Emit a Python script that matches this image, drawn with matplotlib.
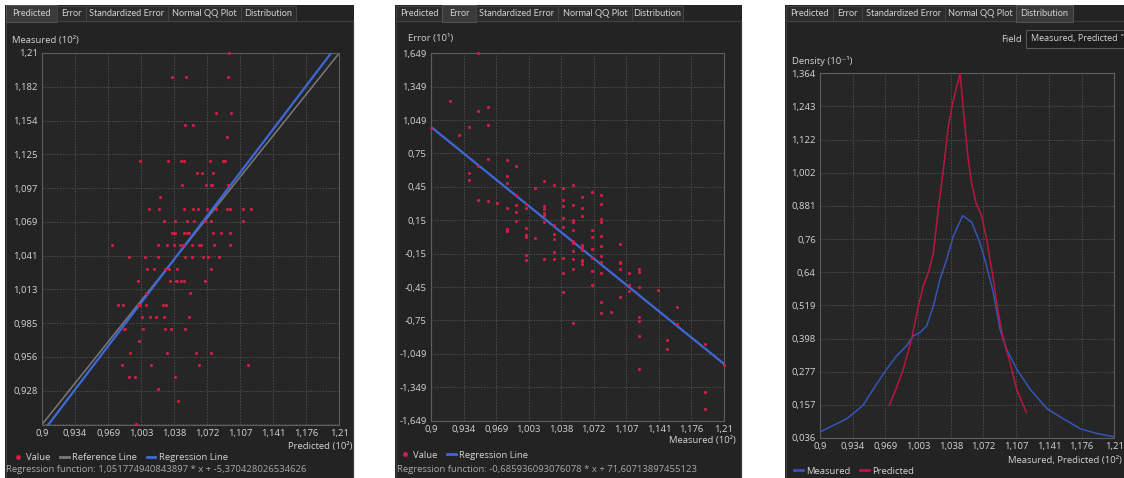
import matplotlib
matplotlib.use("Agg")
import matplotlib.pyplot as plt
from matplotlib.patches import Rectangle
from matplotlib.lines import Line2D
import numpy as np

plt.rcParams['font.family'] = ['Open Sans', 'DejaVu Sans']

# ---------------- data (real units) ----------------
measured = [121,
            119, 119, 119,
            116, 116,
            115, 115,
            114,
            112, 112, 112, 112, 112, 112, 112,
            111, 111, 111,
            110, 110, 110, 110, 110,
            109,
            108, 108, 108, 108, 108, 108, 108, 108, 108, 108, 108,
            107, 107, 107, 107, 107, 107, 107,
            106, 106, 106, 106, 106, 106, 106, 106, 106,
            105, 105, 105, 105, 105, 105, 105, 105, 105, 105, 105,
            104, 104, 104, 104, 104, 104, 104, 104,
            103, 103, 103, 103, 103, 103,
            102, 102, 102, 102, 102, 102, 102,
            101, 101,
            100, 100, 100, 100, 100, 100, 100,
            99, 99, 99, 99, 99,
            98, 98, 98, 98, 98, 98,
            97,
            96, 96, 96, 96,
            95, 95, 95, 95,
            94, 94, 94,
            93,
            92,
            90]
predicted = [109.49,
             103.54, 105.06, 109.41,
             108.19, 109.73,
             104.90, 105.79,
             109.24,
             100.18, 103.14, 104.49, 104.80, 107.48, 108.87, 109.11,
             106.19, 106.68, 107.79,
             104.63, 107.10, 107.62, 107.76, 109.39,
             102.27,
             101.19, 102.20, 104.80, 105.74, 106.26, 107.20, 108.10, 109.32, 109.60, 110.99, 111.75,
             102.72, 103.90, 105.08, 105.88, 106.96, 107.62, 110.99,
             103.59, 103.80, 103.90, 104.84, 105.08, 105.32, 107.86, 108.63, 109.63,
             97.30, 102.13, 103.03, 103.76, 104.42, 104.66, 105.64, 106.33, 106.54, 107.90, 109.63,
             99.04, 100.74, 102.13, 104.87, 105.67, 106.78, 107.34, 108.42,
             100.98, 101.68, 102.86, 103.27, 104.07, 107.62,
             100.04, 103.34, 103.93, 104.11, 104.49, 104.80, 107.03,
             100.88, 105.43,
             97.96, 98.41, 100.04, 100.18, 100.84, 102.58, 102.96,
             100.39, 101.22, 101.85, 102.72, 105.36,
             98.55, 98.69, 100.56, 102.82, 103.45, 104.87,
             100.08,
             99.21, 103.00, 106.05, 107.62,
             98.31, 101.40, 106.33, 111.51,
             99.10, 99.70, 103.90,
             102.13,
             104.21,
             99.78]

reg1_slope, reg1_intercept = 1.051774940843897, -5.370428026534626
reg2_slope, reg2_intercept = -0.685936093076078, 71.60713897455123

# density curves (x in real units, density in 10^-1)
meas_kde_x = [90.0, 92.82, 94.53, 95.62, 97.02, 98.07, 99.13, 99.83, 100.53, 101.23, 101.94,
              102.64, 103.34, 104.04, 105.03, 105.97, 106.85, 107.55, 108.26, 108.96, 109.66,
              110.71, 112.12, 113.90, 115.62, 117.41, 119.18, 120.9]
meas_kde_y = [0.058, 0.106, 0.155, 0.214, 0.287, 0.335, 0.372, 0.408, 0.420, 0.444, 0.517,
              0.614, 0.686, 0.771, 0.846, 0.822, 0.747, 0.662, 0.565, 0.432, 0.359,
              0.287, 0.214, 0.143, 0.106, 0.070, 0.052, 0.041]
pred_kde_x = [97.31, 98.00, 98.78, 99.65, 100.36, 100.88, 101.41, 101.94, 102.46, 102.99, 103.52,
              103.97, 104.75, 105.27, 105.62, 105.97, 106.43, 107.03, 107.55, 108.26, 108.78,
              109.31, 110.01, 110.71, 111.72]
pred_kde_y = [0.157, 0.214, 0.287, 0.396, 0.517, 0.589, 0.638, 0.710, 0.868, 1.013, 1.170,
              1.255, 1.364, 1.170, 1.049, 0.965, 0.892, 0.844, 0.759, 0.614, 0.493,
              0.396, 0.311, 0.214, 0.130]

x_tick_labels = ["0,9", "0,934", "0,969", "1,003", "1,038", "1,072", "1,107", "1,141", "1,176", "1,21"]
y1_tick_labels = ["", "0,928", "0,956", "0,985", "1,013", "1,041", "1,069", "1,097", "1,125", "1,154", "1,182", "1,21"]
y2_tick_labels = ["-1,649", "-1,349", "-1,049", "-0,75", "-0,45", "-0,15", "0,15", "0,45", "0,75", "1,049", "1,349", "1,649"]
y3_tick_labels = ["0,036", "0,157", "0,277", "0,398", "0,519", "0,64", "0,76", "0,881", "1,002", "1,122", "1,243", "1,364"]
tab_names = ["Predicted", "Error", "Standardized Error", "Normal QQ Plot", "Distribution"]

# ---------------- styling ----------------
W, H = 1124, 478
fig = plt.figure(figsize=(W / 100, H / 100), dpi=100)
fig.patch.set_facecolor('white')

PANEL = '#232323'
PLOT = '#262626'
TXT = '#d4d4d4'
RED = '#d81b45'
BLUE = '#3f68d8'
GRAY = '#7a7a7a'
FS = 6.8
TABFONT = ['Lato', 'DejaVu Sans']


def fx(px):
    return px / W


def fy(py):
    return 1 - py / H


def rect(x0, y0, x1, y1, fc, ec='none', lw=0.8, z=0):
    r = Rectangle((fx(x0), fy(y1)), fx(x1) - fx(x0), fy(y0) - fy(y1),
                  transform=fig.transFigure, facecolor=fc, edgecolor=ec,
                  linewidth=lw, zorder=z)
    fig.add_artist(r)


def panel(x0, x1, edges, sel):
    rect(x0, 5, x1, 480, PANEL, z=-5)
    rect(x0 + 1, 21, x1 - 1, 482, 'none', ec='#3c3c3c', lw=0.9, z=-4)
    for i, name in enumerate(tab_names):
        a, b = edges[i], edges[i + 1]
        if i == sel:
            rect(a, 5, b, 22, '#3a3a3a', ec='#555555', lw=0.7, z=-3)
        else:
            rect(a, 6, b, 21, '#2c2c2c', ec='#444444', lw=0.7, z=-3)
        fig.text(fx((a + b) / 2), fy(14), name, ha='center', va='center',
                 color=TXT, fontsize=6.6, family=TABFONT)


def axes_at(l, t, r, b):
    return fig.add_axes([fx(l), fy(b), fx(r) - fx(l), fy(t) - fy(b)])


def style(ax, ylim, yticks, ylabels):
    ax.set_facecolor(PLOT)
    ax.set_xlim(0.9, 1.21)
    ax.set_ylim(*ylim)
    ax.set_xticks(np.linspace(0.9, 1.21, 10))
    ax.set_xticklabels(x_tick_labels)
    ax.set_yticks(yticks)
    ax.set_yticklabels(ylabels)
    ax.tick_params(length=0, colors=TXT, labelsize=FS)
    ax.tick_params(axis='x', pad=3)
    ax.tick_params(axis='y', pad=3)
    ax.grid(True, color='#4e4e4e', linestyle=(0, (1.5, 1.5)), linewidth=0.7)
    ax.set_axisbelow(True)
    for s in ax.spines.values():
        s.set_color('#5e5e5e')
        s.set_linewidth(0.8)


meas = np.array(measured) / 100.0
pred = np.array(predicted) / 100.0
err = (np.array(predicted) - np.array(measured)) / 10.0

# ---------------- panel 1 ----------------
panel(5, 354, [6, 57, 86, 168, 241, 296], 0)
ax1 = axes_at(42, 53, 339.3, 424.5)
style(ax1, (0.9, 1.21), np.linspace(0.9, 1.21, 12), y1_tick_labels)
xl = np.array([90.0, 121.0])
ax1.plot(xl / 100, xl / 100, color=GRAY, lw=1.1, zorder=2)
ax1.plot(xl / 100, (reg1_slope * xl + reg1_intercept) / 100, color=BLUE, lw=1.6, zorder=3)
ax1.scatter(pred, meas, s=5, color=RED, linewidths=0, zorder=4, clip_on=False)
fig.text(fx(12), fy(40), "Measured (10²)", color=TXT, fontsize=FS, va='center')
fig.text(fx(352), fy(446), "Predicted (10²)", color=TXT, fontsize=FS, va='center', ha='right')
fig.legend([Line2D([], [], marker='o', ls='none', color=RED, markersize=2.5),
            Line2D([], [], color=GRAY, lw=2),
            Line2D([], [], color=BLUE, lw=2)],
           ["Value", "Reference Line", "Regression Line"],
           loc='center left', bbox_to_anchor=(fx(14), fy(458)), ncol=3, frameon=False,
           fontsize=FS, labelcolor=TXT, handlelength=0.9, handletextpad=0.4,
           columnspacing=1.0, borderpad=0, borderaxespad=0)
fig.text(fx(6), fy(470), "Regression function: 1,051774940843897 * x + -5,370428026534626",
         color='#a8a8a8', fontsize=FS, va='center')

# ---------------- panel 2 ----------------
panel(395, 742, [396, 442, 476, 558, 632, 683], 1)
ax2 = axes_at(431, 53.2, 724, 420.7)
style(ax2, (-1.649, 1.649), np.linspace(-1.649, 1.649, 12), y2_tick_labels)
ax2.plot(xl / 100, (reg2_slope * xl + reg2_intercept) / 10, color=BLUE, lw=1.6, zorder=3)
ax2.scatter(meas, err, s=5, color=RED, linewidths=0, zorder=4, clip_on=False)
fig.text(fx(408), fy(39), "Error (10¹)", color=TXT, fontsize=FS, va='center')
fig.text(fx(736), fy(441), "Measured (10²)", color=TXT, fontsize=FS, va='center', ha='right')
fig.legend([Line2D([], [], marker='o', ls='none', color=RED, markersize=2.5),
            Line2D([], [], color=BLUE, lw=2)],
           ["Value", "Regression Line"],
           loc='center left', bbox_to_anchor=(fx(401), fy(455)), ncol=2, frameon=False,
           fontsize=FS, labelcolor=TXT, handlelength=0.9, handletextpad=0.4,
           columnspacing=1.0, borderpad=0, borderaxespad=0)
fig.text(fx(397), fy(469), "Regression function: -0,685936093076078 * x + 71,60713897455123",
         color='#a8a8a8', fontsize=FS, va='center')

# ---------------- panel 3 ----------------
panel(785, 1130, [786, 833, 862, 945, 1016, 1073], 4)
ax3 = axes_at(820, 73.3, 1114.3, 438)
style(ax3, (0.036, 1.364), np.linspace(0.036, 1.364, 12), y3_tick_labels)
ax3.plot(np.array(meas_kde_x) / 100, meas_kde_y, color='#3356b8', lw=1.1, zorder=3)
ax3.plot(np.array(pred_kde_x) / 100, pred_kde_y, color='#b8163f', lw=1.1, zorder=4)
fig.text(fx(792), fy(61), "Density (10⁻¹)", color=TXT, fontsize=FS, va='center')
fig.text(fx(1122), fy(460), "Measured, Predicted (10²)", color=TXT, fontsize=FS,
         va='center', ha='right')
fig.text(fx(1022), fy(39), "Field", color=TXT, fontsize=FS, va='center', ha='right')
rect(1026, 30, 1135, 48, '#1e1e1e', ec='#5a5a5a', lw=0.8, z=-2)
fig.text(fx(1031), fy(39), "Measured, Predicted", color=TXT, fontsize=6.5, va='center')
fig.text(fx(1119), fy(39), "˅", color=TXT, fontsize=6.5, va='center',
         family=['DejaVu Sans'])
fig.legend([Line2D([], [], color='#3356b8', lw=2),
            Line2D([], [], color='#b8163f', lw=2)],
           ["Measured", "Predicted"],
           loc='center left', bbox_to_anchor=(fx(794), fy(471)), ncol=2, frameon=False,
           fontsize=FS, labelcolor=TXT, handlelength=0.9, handletextpad=0.4,
           columnspacing=1.0, borderpad=0, borderaxespad=0)

fig.savefig("out.png", dpi=100, facecolor='white')
